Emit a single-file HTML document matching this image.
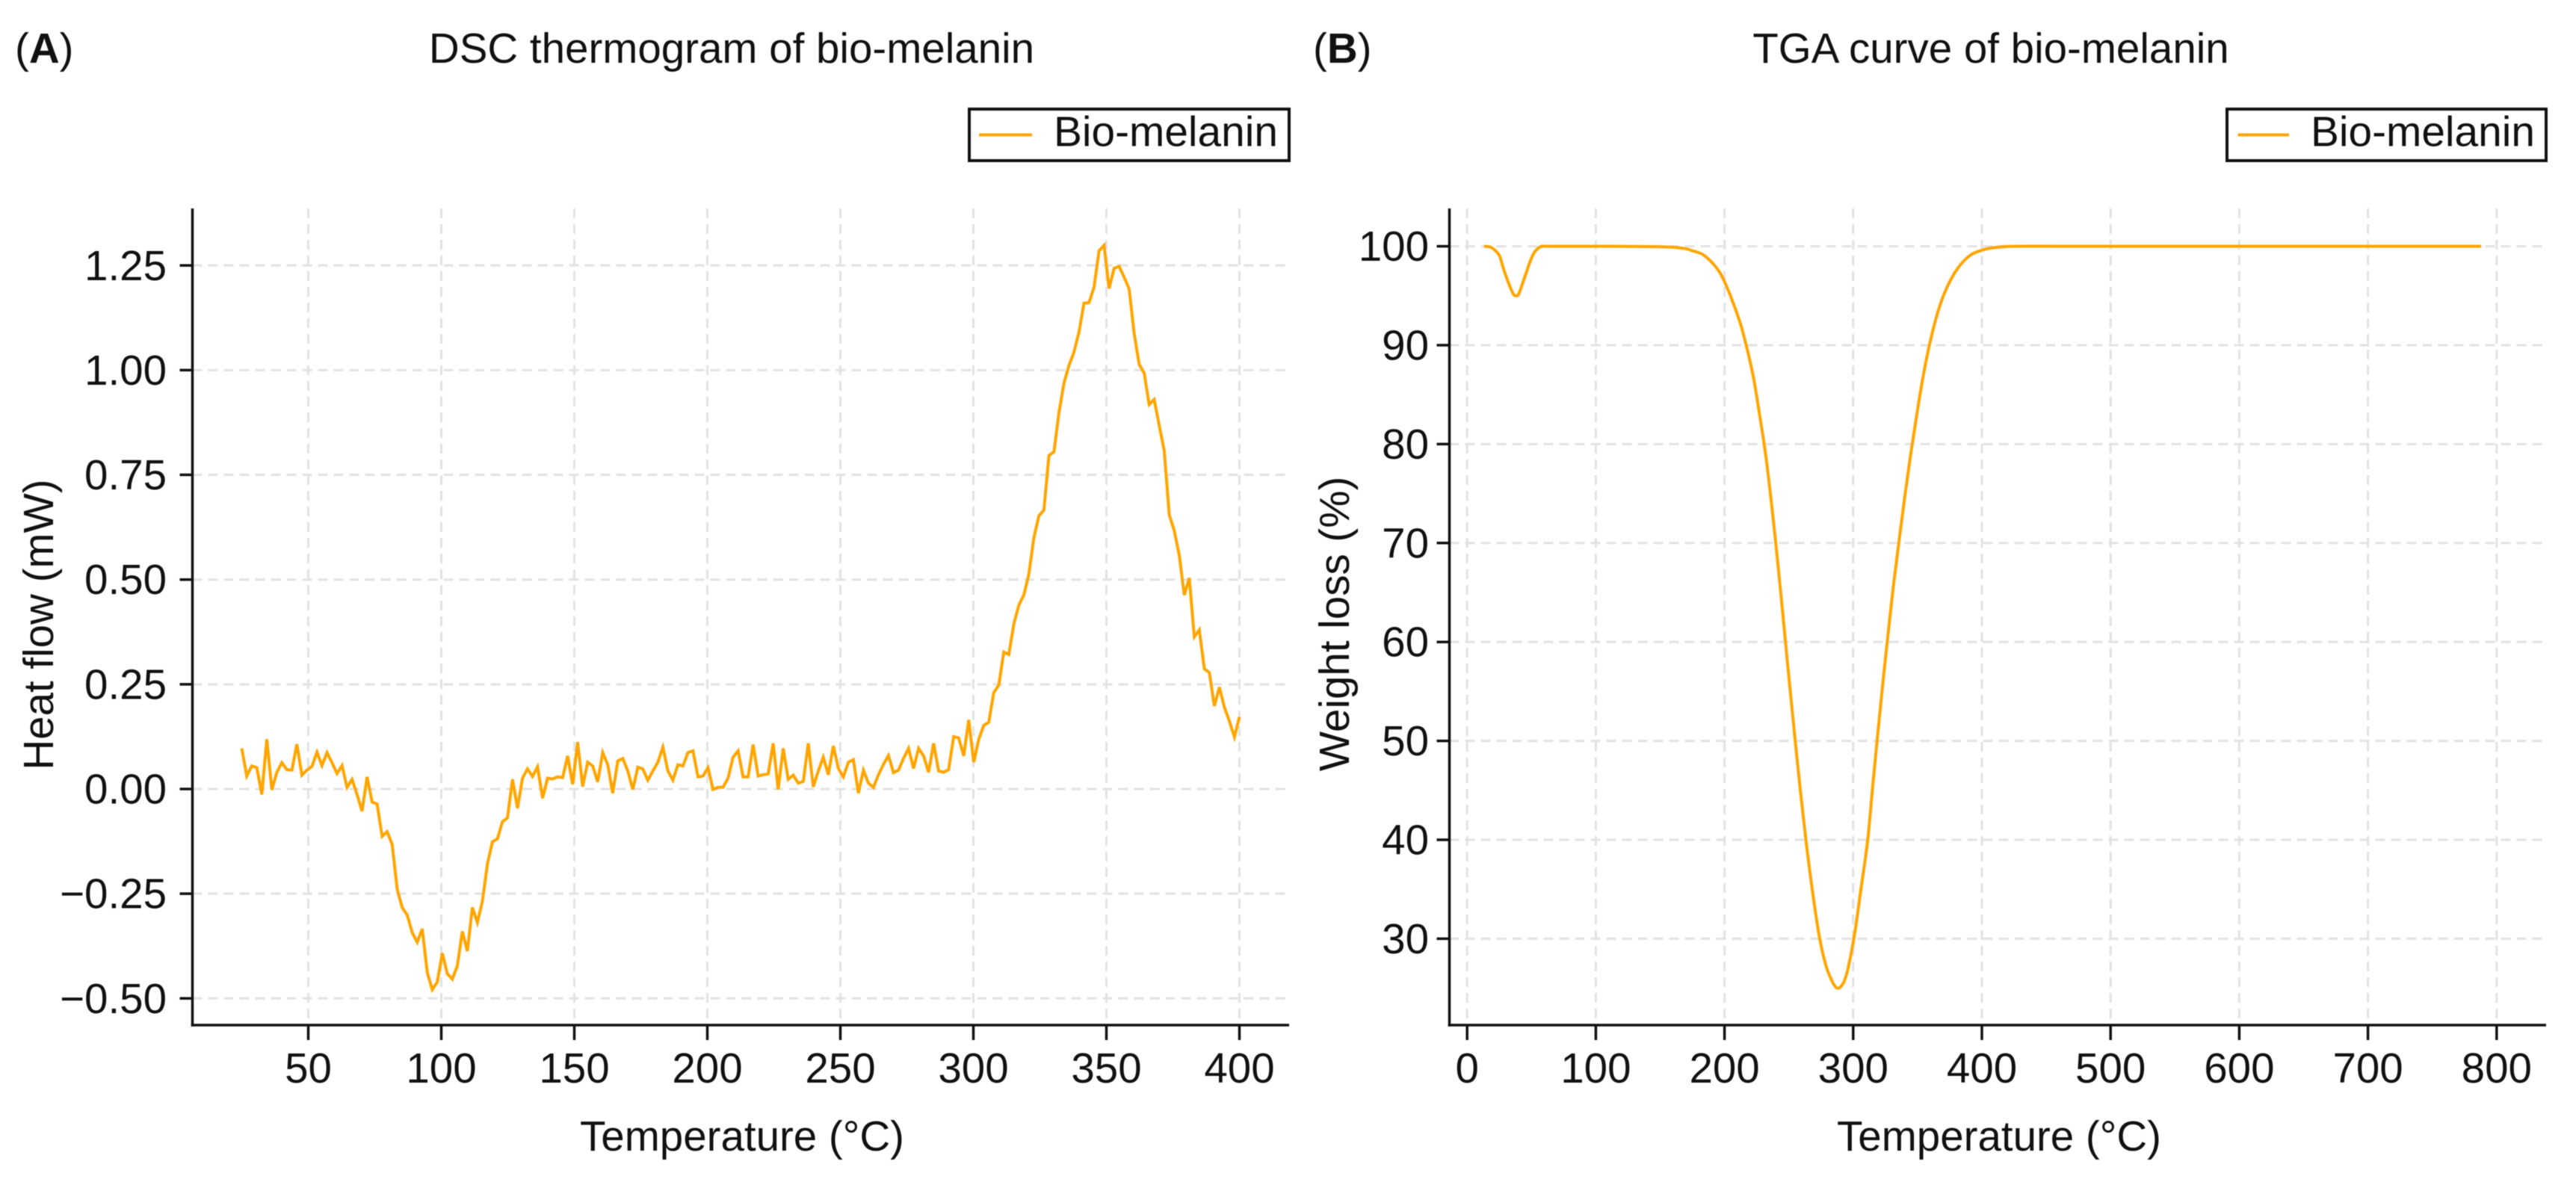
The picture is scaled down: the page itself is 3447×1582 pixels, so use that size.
<!DOCTYPE html>
<html lang="en">
<head>
<meta charset="utf-8">
<title>DSC and TGA of bio-melanin</title>
<style>
html,body{margin:0;padding:0;background:#fff;}
#stage{display:block;width:3447px;height:1582px;filter:blur(0.6px);}
text{font-family:"Liberation Sans",Arial,sans-serif;fill:#111;}
</style>
</head>
<body>
<svg id="stage" xmlns="http://www.w3.org/2000/svg" width="3447" height="1582" viewBox="0 0 3447 1582">
  <rect x="0" y="0" width="3447" height="1582" fill="#fff"/>

  <g id="panelA">
    <text x="20" y="84" font-size="56.5">(<tspan font-weight="bold">A</tspan>)</text>
    <text x="979" y="84" font-size="56.5" text-anchor="middle">DSC thermogram of bio-melanin</text>
    <g id="gridA"></g>
    <g id="marksA"></g>
    <g id="axesA"></g>
    <text x="993" y="1540" font-size="56.5" text-anchor="middle">Temperature (°C)</text>
    <text transform="translate(71,836) rotate(-90)" font-size="56.5" text-anchor="middle">Heat flow (mW)</text>
    <g>
      <rect x="1297" y="146" width="428" height="69" fill="#fff" stroke="#111" stroke-width="4"/>
      <line x1="1310" y1="180.5" x2="1381" y2="180.5" stroke="#ffa500" stroke-width="4"/>
      <text x="1410" y="195.5" font-size="56.8">Bio-melanin</text>
    </g>
  </g>

  <g id="panelB">
    <text x="1757" y="84" font-size="56.5">(<tspan font-weight="bold">B</tspan>)</text>
    <text x="2664" y="84" font-size="56.5" text-anchor="middle">TGA curve of bio-melanin</text>
    <g id="gridB"></g>
    <g id="marksB"></g>
    <g id="axesB"></g>
    <text x="2675" y="1540" font-size="56.5" text-anchor="middle">Temperature (°C)</text>
    <text transform="translate(1805,835) rotate(-90)" font-size="56.5" text-anchor="middle">Weight loss (%)</text>
    <g>
      <rect x="2980" y="146" width="427" height="69" fill="#fff" stroke="#111" stroke-width="4"/>
      <line x1="2994.5" y1="180.5" x2="3063" y2="180.5" stroke="#ffa500" stroke-width="4"/>
      <text x="3092" y="195.5" font-size="56.8">Bio-melanin</text>
    </g>
  </g>
</svg>

<script>
const dscXTicks = [50,100,150,200,250,300,350,400];
const dscYTicks = [-0.5,-0.25,0,0.25,0.5,0.75,1,1.25];
const dscYTickLabels = ["\u22120.50","\u22120.25","0.00","0.25","0.50","0.75","1.00","1.25"];
const dscTemps = [25.00,26.88,28.77,30.65,32.54,34.42,36.31,38.19,40.08,41.96,43.84,45.73,47.61,49.50,51.38,53.27,55.15,57.04,58.92,60.80,62.69,64.57,66.46,68.34,70.23,72.11,74.00,75.88,77.76,79.65,81.53,83.42,85.30,87.19,89.07,90.95,92.84,94.72,96.61,98.49,100.38,102.26,104.15,106.03,107.91,109.80,111.68,113.57,115.45,117.34,119.22,121.11,122.99,124.87,126.76,128.64,130.53,132.41,134.30,136.18,138.07,139.95,141.83,143.72,145.60,147.49,149.37,151.26,153.14,155.03,156.91,158.79,160.68,162.56,164.45,166.33,168.22,170.10,171.98,173.87,175.75,177.64,179.52,181.41,183.29,185.18,187.06,188.94,190.83,192.71,194.60,196.48,198.37,200.25,202.14,204.02,205.90,207.79,209.67,211.56,213.44,215.33,217.21,219.10,220.98,222.86,224.75,226.63,228.52,230.40,232.29,234.17,236.06,237.94,239.82,241.71,243.59,245.48,247.36,249.25,251.13,253.02,254.90,256.78,258.67,260.55,262.44,264.32,266.21,268.09,269.97,271.86,273.74,275.63,277.51,279.40,281.28,283.17,285.05,286.93,288.82,290.70,292.59,294.47,296.36,298.24,300.13,302.01,303.89,305.78,307.66,309.55,311.43,313.32,315.20,317.09,318.97,320.85,322.74,324.62,326.51,328.39,330.28,332.16,334.05,335.93,337.81,339.70,341.58,343.47,345.35,347.24,349.12,351.01,352.89,354.77,356.66,358.54,360.43,362.31,364.20,366.08,367.96,369.85,371.73,373.62,375.50,377.39,379.27,381.16,383.04,384.92,386.81,388.69,390.58,392.46,394.35,396.23,398.12,400.00];
const dscHeatFlow = [0.097,0.031,0.055,0.051,-0.013,0.119,-0.002,0.040,0.063,0.046,0.045,0.107,0.033,0.045,0.054,0.088,0.056,0.087,0.063,0.037,0.056,0.004,0.023,-0.013,-0.053,0.029,-0.031,-0.036,-0.113,-0.102,-0.132,-0.239,-0.283,-0.301,-0.343,-0.366,-0.334,-0.438,-0.479,-0.461,-0.392,-0.441,-0.454,-0.422,-0.340,-0.387,-0.283,-0.319,-0.268,-0.179,-0.126,-0.119,-0.078,-0.069,0.023,-0.046,0.026,0.048,0.030,0.053,-0.022,0.026,0.024,0.029,0.027,0.079,0.011,0.112,0.006,0.064,0.055,0.017,0.087,0.058,-0.010,0.067,0.073,0.043,-0.001,0.052,0.048,0.021,0.043,0.064,0.100,0.043,0.021,0.058,0.055,0.087,0.091,0.029,0.031,0.051,-0.001,0.004,0.004,0.026,0.076,0.091,0.029,0.029,0.106,0.031,0.034,0.036,0.109,-0.001,0.097,0.023,0.033,0.014,0.018,0.109,0.005,0.043,0.076,0.034,0.103,0.049,0.029,0.064,0.070,-0.010,0.045,0.014,0.004,0.034,0.059,0.080,0.039,0.045,0.073,0.097,0.049,0.097,0.079,0.040,0.109,0.043,0.040,0.046,0.125,0.122,0.079,0.165,0.064,0.118,0.152,0.159,0.230,0.248,0.327,0.321,0.394,0.439,0.463,0.513,0.600,0.652,0.666,0.796,0.805,0.898,0.969,1.011,1.043,1.091,1.160,1.161,1.198,1.285,1.298,1.195,1.243,1.248,1.222,1.194,1.088,1.014,0.993,0.918,0.930,0.868,0.808,0.655,0.617,0.558,0.463,0.504,0.363,0.380,0.287,0.278,0.198,0.243,0.195,0.162,0.124,0.172];

const tgaXTicks = [0,100,200,300,400,500,600,700,800];
const tgaYTicks = [30,40,50,60,70,80,90,100];
const tgaTemps = [13.2,18.5,22.4,25.3,28.1,31,34,36.3,38,39.8,42.7,45.6,48.5,51.4,54.3,58,62,80,110,140,150,160,170,175,180,184,190,193.7,197,200.4,204,207.2,210,213,217.8,222.7,226.5,232,236,240,244,249,255,259,263.6,269,274,279,284,286.5,288,290,293,296,301,306,311.3,315,319,323,326.6,331,337,340,344.6,350.4,354.3,359.2,365.9,372.7,381.4,391.1,402.7,412,425,460,520,600,700,788];
const tgaWeight = [100,99.9,99.5,99,97.8,96.7,95.7,95.1,95,95.1,96.1,97.2,98.3,99.2,99.7,100,100,100,100,99.97,99.95,99.9,99.75,99.55,99.35,99.09,98.4,97.83,97.2,96.3,95.2,94.1,93.1,91.9,89.5,86.6,83.6,78.9,74.6,69.8,64.6,57.8,49.9,44.9,39.6,34.2,30,27.2,25.6,25.1,25,25.1,25.7,27,30.4,35,40,45.2,50.6,55.8,60.2,65.4,71.6,74.6,78.9,83.8,86.8,90,93.4,95.8,97.8,99.1,99.7,99.9,100,100,100,100,100,100];

const SVGNS = 'http://www.w3.org/2000/svg';

/* Panel A axis geometry */
const ax = { left: 257.5, right: 1725, top: 279, bottom: 1372 };
function dscX(t){ return 412.5 + (t - 50) * 3.56; }
function dscY(v){ return 1056 - v * 560.6; }

/* Panel B axis geometry */
const bx = { left: 1939.5, right: 3407, top: 279, bottom: 1372 };
function tgaX(t){ return 1963.2 + t * 1.722; }
function tgaY(v){ return 329.6 + (100 - v) * 13.24; }

function drawLine(parent, x1, y1, x2, y2, stroke, width, dash){
  const l = document.createElementNS(SVGNS, 'line');
  l.setAttribute('x1', x1);
  l.setAttribute('y1', y1);
  l.setAttribute('x2', x2);
  l.setAttribute('y2', y2);
  l.setAttribute('stroke', stroke);
  l.setAttribute('stroke-width', width);
  if (dash) l.setAttribute('stroke-dasharray', dash);
  parent.appendChild(l);
  return l;
}
function drawText(parent, x, y, str, anchor){
  const t = document.createElementNS(SVGNS, 'text');
  t.setAttribute('x', x);
  t.setAttribute('y', y);
  t.setAttribute('font-size', '56.5');
  t.setAttribute('text-anchor', anchor);
  t.textContent = str;
  parent.appendChild(t);
  return t;
}
function drawCurve(parent, temps, vals, fx, fy, width){
  const p = document.createElementNS(SVGNS, 'polyline');
  const pts = temps.map(function(t, i){ return fx(t).toFixed(2) + ',' + fy(vals[i]).toFixed(2); });
  p.setAttribute('points', pts.join(' '));
  p.setAttribute('fill', 'none');
  p.setAttribute('stroke', '#ffa500');
  p.setAttribute('stroke-width', width);
  p.setAttribute('stroke-linejoin', 'miter');
  parent.appendChild(p);
  return p;
}
/* Smooth path through the data points (Catmull-Rom spline), used for the continuous TGA trace */
function drawSmoothCurve(parent, temps, vals, fx, fy, width){
  const xs = temps.map(fx);
  const ys = vals.map(fy);
  let d = 'M' + xs[0].toFixed(2) + ' ' + ys[0].toFixed(2);
  for (let i = 0; i < xs.length - 1; i++) {
    const i0 = Math.max(i - 1, 0);
    const i3 = Math.min(i + 2, xs.length - 1);
    const h = xs[i + 1] - xs[i];
    const m1 = (ys[i + 1] - ys[i0]) / (xs[i + 1] - xs[i0]);
    const m2 = (ys[i3] - ys[i]) / (xs[i3] - xs[i]);
    d += ' C' + (xs[i] + h / 3).toFixed(2) + ' ' + (ys[i] + m1 * h / 3).toFixed(2) + ' ' +
         (xs[i + 1] - h / 3).toFixed(2) + ' ' + (ys[i + 1] - m2 * h / 3).toFixed(2) + ' ' +
         xs[i + 1].toFixed(2) + ' ' + ys[i + 1].toFixed(2);
  }
  const p = document.createElementNS(SVGNS, 'path');
  p.setAttribute('d', d);
  p.setAttribute('fill', 'none');
  p.setAttribute('stroke', '#ffa500');
  p.setAttribute('stroke-width', width);
  parent.appendChild(p);
  return p;
}

const gridColor = '#e2e2e2';
const gridDash = '13 8';
const axisColor = '#111';

/* ---------- Panel A ---------- */
const gridA = document.getElementById('gridA');
const axesA = document.getElementById('axesA');
const marksA = document.getElementById('marksA');

dscXTicks.forEach(function(t){
  const g = drawLine(gridA, dscX(t), ax.top, dscX(t), ax.bottom, gridColor, 3, gridDash);
  
  
  const m = drawLine(axesA, dscX(t), ax.bottom, dscX(t), ax.bottom + 20, axisColor, 3.5);
  
  
  const lbl = drawText(axesA, dscX(t), 1449, String(t), 'middle');
  
  
});
dscYTicks.forEach(function(v, i){
  const g = drawLine(gridA, ax.left, dscY(v), ax.right, dscY(v), gridColor, 3, gridDash);
  
  
  const m = drawLine(axesA, ax.left - 17, dscY(v), ax.left, dscY(v), axisColor, 3.5);
  
  
  const lbl = drawText(axesA, 223, dscY(v) + 19.5, dscYTickLabels[i], 'end');
  
  
});
const dscCurve = drawCurve(marksA, dscTemps, dscHeatFlow, dscX, dscY, 4);


const axisAY = drawLine(axesA, ax.left, ax.top, ax.left, ax.bottom + 1.75, axisColor, 3.5);


const axisAX = drawLine(axesA, ax.left - 1.75, ax.bottom, ax.right, ax.bottom, axisColor, 3.5);



/* ---------- Panel B ---------- */
const gridB = document.getElementById('gridB');
const axesB = document.getElementById('axesB');
const marksB = document.getElementById('marksB');

tgaXTicks.forEach(function(t){
  const g = drawLine(gridB, tgaX(t), bx.top, tgaX(t), bx.bottom, gridColor, 3, gridDash);
  
  
  const m = drawLine(axesB, tgaX(t), bx.bottom, tgaX(t), bx.bottom + 20, axisColor, 3.5);
  
  
  const lbl = drawText(axesB, tgaX(t), 1449, String(t), 'middle');
  
  
});
tgaYTicks.forEach(function(v){
  const g = drawLine(gridB, bx.left, tgaY(v), bx.right, tgaY(v), gridColor, 3, gridDash);
  
  
  const m = drawLine(axesB, bx.left - 17, tgaY(v), bx.left, tgaY(v), axisColor, 3.5);
  
  
  const lbl = drawText(axesB, 1912, tgaY(v) + 19.5, String(v), 'end');
  
  
});
const tgaCurve = drawSmoothCurve(marksB, tgaTemps, tgaWeight, tgaX, tgaY, 4);


const axisBY = drawLine(axesB, bx.left, bx.top, bx.left, bx.bottom + 1.75, axisColor, 3.5);


const axisBX = drawLine(axesB, bx.left - 1.75, bx.bottom, bx.right, bx.bottom, axisColor, 3.5);


</script>
</body>
</html>
